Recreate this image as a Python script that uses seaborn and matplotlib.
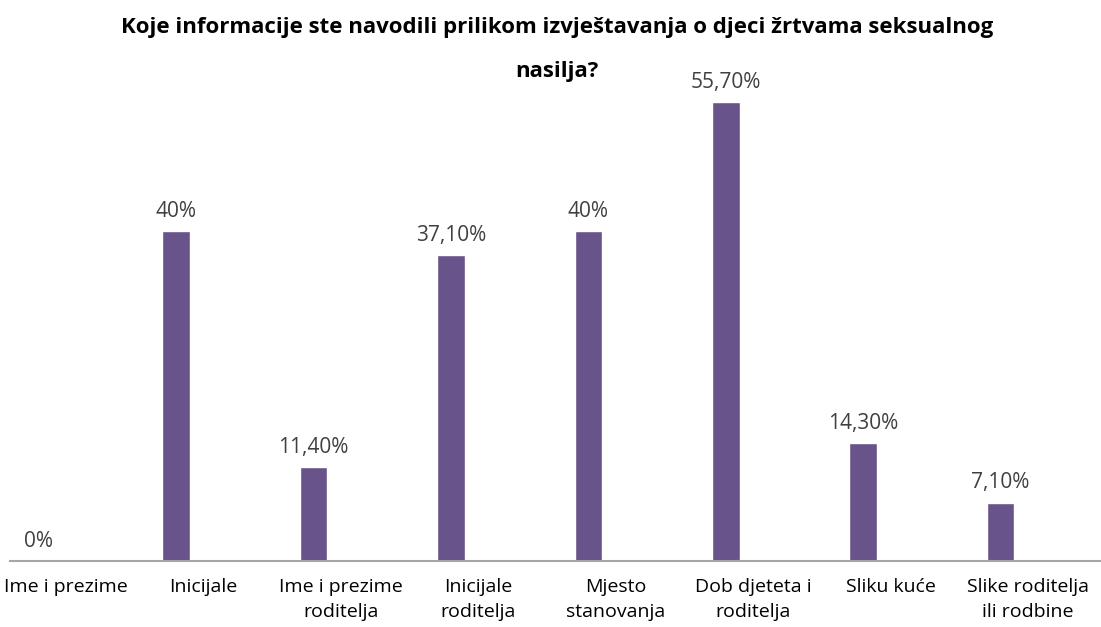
import numpy as np
import matplotlib
matplotlib.use("Agg")
import matplotlib.pyplot as plt
import seaborn as sns

# Data
categories = [
    "Ime i prezime",
    "Inicijale",
    "Ime i prezime\nroditelja",
    "Inicijale\nroditelja",
    "Mjesto\nstanovanja",
    "Dob djeteta i\nroditelja",
    "Sliku kuće",
    "Slike roditelja\nili rodbine",
]
values = [0, 40, 11.4, 37.1, 40, 55.7, 14.3, 7.1]
value_labels = ["0%", "40%", "11,40%", "37,10%", "40%", "55,70%", "14,30%", "7,10%"]
title_lines = [
    "Koje informacije ste navodili prilikom izvještavanja o djeci žrtvama seksualnog",
    "nasilja?",
]

sns.set_style("white")
plt.rcParams["font.family"] = ["Open Sans", "DejaVu Sans"]

W, H = 1101, 627
fig = plt.figure(figsize=(W / 100, H / 100), dpi=100)
ax = fig.add_axes([10 / W, (H - 561) / H, 1091 / W, 561 / H])

sns.barplot(x=categories, y=values, color="#68538A", width=0.2,
            saturation=1, ax=ax, zorder=2)

ax.set_ylim(0, 68.1)
ax.set_xlim(-0.208, 7.73)

for i, (v, lab) in enumerate(zip(values, value_labels)):
    ax.text(i, v + 1.1, lab, ha="center", va="bottom",
            fontsize=15, color="#404040")

ax.set_xticks(np.arange(len(categories)) + 0.2)
ax.set_xticklabels(categories, fontsize=14, color="black", linespacing=1.55)
ax.tick_params(axis="x", length=0, pad=12)
ax.set_yticks([])
ax.set_xlabel("")
ax.set_ylabel("")

for s in ["top", "right", "left"]:
    ax.spines[s].set_visible(False)
ax.spines["bottom"].set_color("#A6A6A6")
ax.spines["bottom"].set_linewidth(1.5)

# title as two separate lines
for line, ypx in zip(title_lines, [28, 72]):
    fig.text(557 / W, 1 - ypx / H, line, ha="center", va="center",
             fontsize=16, fontweight="bold", color="black")

fig.savefig("out.png", dpi=100)
